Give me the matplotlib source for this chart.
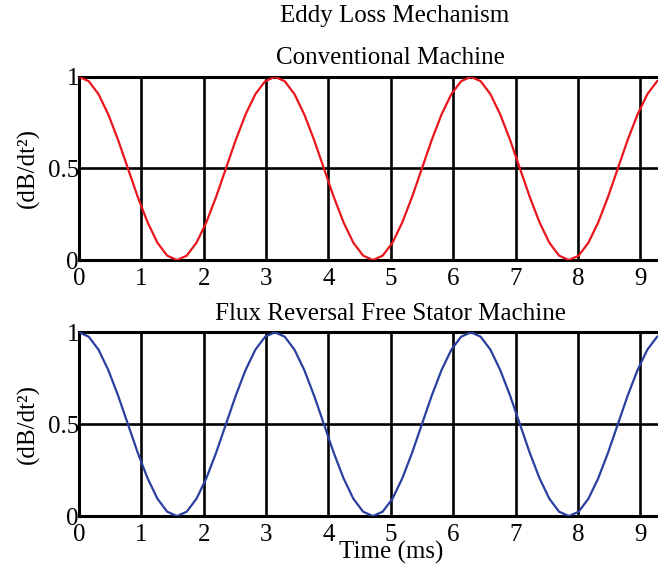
import matplotlib.pyplot as plt

plt.rcParams['font.family'] = ['Liberation Serif', 'DejaVu Serif']

# time samples (ms)
t_ms = [0.000, 0.157, 0.314, 0.471, 0.628, 0.785, 0.942, 1.100, 1.257, 1.414,
        1.571, 1.728, 1.885, 2.042, 2.199, 2.356, 2.513, 2.670, 2.827, 2.985,
        3.142, 3.299, 3.456, 3.613, 3.770, 3.927, 4.084, 4.241, 4.398, 4.555,
        4.712, 4.869, 5.027, 5.184, 5.341, 5.498, 5.655, 5.812, 5.969, 6.126,
        6.283, 6.440, 6.597, 6.754, 6.912, 7.069, 7.226, 7.383, 7.540, 7.697,
        7.854, 8.011, 8.168, 8.325, 8.482, 8.639, 8.796, 8.954, 9.111, 9.268,
        9.425, 9.582]

conventional = [1.000, 0.976, 0.905, 0.794, 0.655, 0.500, 0.345, 0.206, 0.095, 0.024,
                0.000, 0.024, 0.095, 0.206, 0.345, 0.500, 0.655, 0.794, 0.905, 0.976,
                1.000, 0.976, 0.905, 0.794, 0.655, 0.500, 0.345, 0.206, 0.095, 0.024,
                0.000, 0.024, 0.095, 0.206, 0.345, 0.500, 0.655, 0.794, 0.905, 0.976,
                1.000, 0.976, 0.905, 0.794, 0.655, 0.500, 0.345, 0.206, 0.095, 0.024,
                0.000, 0.024, 0.095, 0.206, 0.345, 0.500, 0.655, 0.794, 0.905, 0.976,
                1.000, 0.976]

flux_reversal = [1.000, 0.976, 0.905, 0.794, 0.655, 0.500, 0.345, 0.206, 0.095, 0.024,
                 0.000, 0.024, 0.095, 0.206, 0.345, 0.500, 0.655, 0.794, 0.905, 0.976,
                 1.000, 0.976, 0.905, 0.794, 0.655, 0.500, 0.345, 0.206, 0.095, 0.024,
                 0.000, 0.024, 0.095, 0.206, 0.345, 0.500, 0.655, 0.794, 0.905, 0.976,
                 1.000, 0.976, 0.905, 0.794, 0.655, 0.500, 0.345, 0.206, 0.095, 0.024,
                 0.000, 0.024, 0.095, 0.206, 0.345, 0.500, 0.655, 0.794, 0.905, 0.976,
                 1.000, 0.976]

x_ticks = [0, 1, 2, 3, 4, 5, 6, 7, 8, 9]
y_ticks = [0, 0.5, 1]
y_ticklabels = ['0', '0.5', '1']

fig = plt.figure(figsize=(6.58, 5.69), dpi=100)
# the axes run past the right edge of the figure, as in the original
ax1 = fig.add_axes([0.120, 0.543, 0.948, 0.322])
ax2 = fig.add_axes([0.120, 0.093, 0.948, 0.323])

panels = [(ax1, conventional, '#e8161c', 'Conventional Machine'),
          (ax2, flux_reversal, '#2a3f9e', 'Flux Reversal Free Stator Machine')]

for ax, y, col, title in panels:
    ax.plot(t_ms, y, color=col, lw=1.6, zorder=3)
    ax.set_xlim(0, 10)
    ax.set_ylim(0, 1)
    ax.set_xticks(x_ticks)
    ax.set_yticks(y_ticks)
    ax.set_yticklabels(y_ticklabels)
    ax.tick_params(length=0, labelsize=18, pad=0)
    ax.tick_params(axis='x', pad=6)
    ax.grid(True, color='black', lw=1.9)
    for s in ['top', 'bottom', 'left']:
        ax.spines[s].set_linewidth(2.2)
    ax.spines['right'].set_visible(False)
    ax.set_ylabel('(dB/dt²)', fontsize=18, labelpad=6)
    ax.set_title(title, fontsize=18, pad=9)

ax2.set_xlabel('Time (ms)', fontsize=18, labelpad=-4)
fig.text(0.600, 0.972, 'Eddy Loss Mechanism', ha='center', va='center', fontsize=18)

fig.savefig('out.png', dpi=100)
